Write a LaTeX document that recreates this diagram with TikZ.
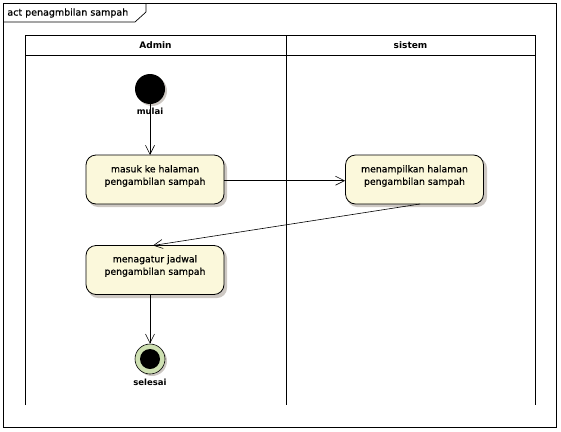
\documentclass[tikz,border=0pt]{standalone}
\usepackage{fontspec}
\setmainfont{DejaVu Sans}
\newfontfamily\semib[FakeBold=0.5]{DejaVu Sans}
\usetikzlibrary{arrows.meta}
\definecolor{actfill}{RGB}{251,248,219}
\definecolor{endfill}{RGB}{206,224,178}
\definecolor{shadowc}{RGB}{205,200,195}
\begin{document}
\begin{tikzpicture}[x=1pt,y=-1pt,
  line width=0.8pt,
  action/.style={draw, rounded corners=10pt, fill=actfill, minimum width=138pt, minimum height=49pt, inner sep=0pt},
  acttext/.style={align=center, font=\semib\fontsize{9.3}{12.5}\selectfont, inner sep=0pt},
  flow/.style={-{Straight Barb[length=9pt,width=9pt,line width=0.6pt]}, line width=0.6pt},
  lbl/.style={font=\bfseries\fontsize{8.5}{10}\selectfont, inner sep=0pt},
  lane/.style={font=\bfseries\fontsize{9}{10}\selectfont, inner sep=0pt}]
\useasboundingbox (0,0) rectangle (561,431);
% frame
\draw[line width=0.7pt] (3,3) rectangle (556,427);
\draw[line width=0.7pt] (3,22) -- (135,22) -- (146,12) -- (146,3);
\node[anchor=west, font=\semib\fontsize{9.5}{11}\selectfont, inner sep=0pt] (title) at (7,13) {act penagmbilan sampah};
% lanes
\draw[line width=0.7pt] (25,405) -- (25,35) -- (535,35) -- (535,405);
\draw[line width=0.7pt] (286,35) -- (286,405);
\draw[line width=0.7pt] (25,55) -- (535,55);
\node[lane] (ladmin) at (155.5,45) {Admin};
\node[lane] (lsistem) at (410.5,45) {sistem};
% shadows
\fill[shadowc] (152,91) circle (15);
\fill[shadowc] (152,361) circle (15);
\fill[shadowc, rounded corners=10pt] (88,158) rectangle (227,207);
\fill[shadowc, rounded corners=10pt] (347,158) rectangle (487,207);
\fill[shadowc, rounded corners=10pt] (88,248) rectangle (227,298);
% start
\node[circle, fill=black, minimum size=30pt, inner sep=0pt] (start) at (150,89) {};
\node[lbl] (startl) at (150,111) {mulai};
% actions
\node[action] (a1) at (155,179.5) {};
\node[action] (a2) at (414.5,179.5) {};
\node[action] (a3) at (155,270) {};
\node[acttext] (a1t) at ([yshift=3.5pt]a1.center) {masuk ke halaman\\pengambilan sampah};
\node[acttext] (a2t) at ([yshift=3.5pt]a2.center) {menampilkan halaman\\pengambilan sampah};
\node[acttext] (a3t) at ([yshift=4pt]a3.center) {menagatur jadwal\\pengambilan sampah};
% end
\node[circle, draw, fill=endfill, minimum size=30pt, inner sep=0pt, line width=0.6pt] (end) at (150,359) {};
\fill[black] (end.center) circle (10);
\node[lbl] (endl) at (150,382) {selesai};
% flows
\draw[flow] (start) -- (150,155);
\draw[flow] (a1.east |- 0,180.7) -- (a2.west |- 0,180.7);
\draw[flow] (420,204) -- (153,245.5);
\draw[flow] (150,295) -- (end.north);
\end{tikzpicture}
\end{document}
